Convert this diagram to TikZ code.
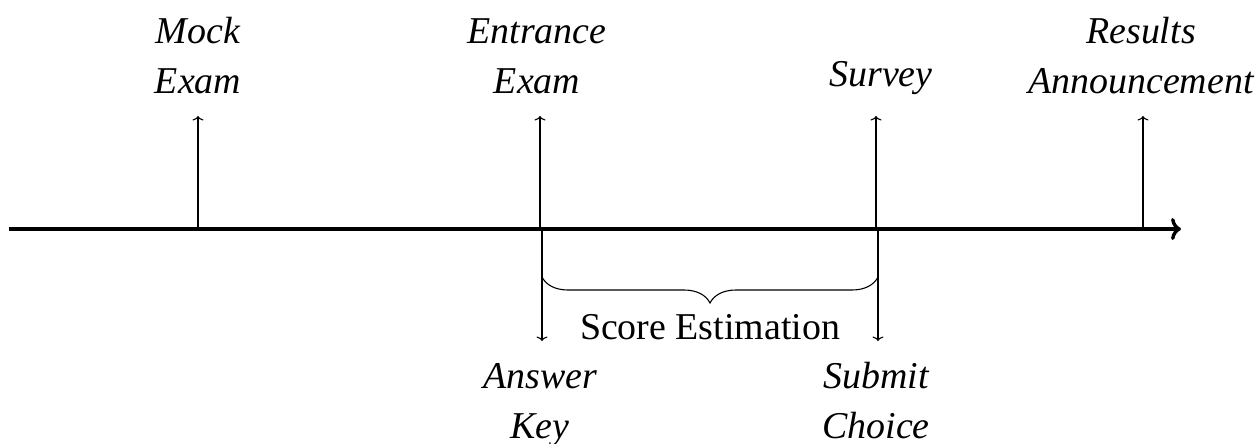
\documentclass[tikz,border=0pt]{standalone}
\usepackage{fontspec}
\setmainfont{Liberation Serif}
\usetikzlibrary{decorations.pathreplacing,arrows.meta}
\begin{document}
\begin{tikzpicture}[x=1pt,y=-1pt,
  lbl/.style={font=\fontsize{37.9}{50}\selectfont\itshape, align=center, anchor=base, inner sep=0pt},
  plain/.style={font=\fontsize{37.9}{50}\selectfont, anchor=base, inner sep=0pt},
  tick/.style={line width=1.1pt, -{To[length=4.5pt,width=11pt]}},
  axis/.style={line width=3.4pt, -{To[length=10pt,width=22pt]}}]
\useasboundingbox (0,0) rectangle (1260,444);
% axis
\coordinate (a0) at (9,229);
\coordinate (a1) at (1181,229);
\draw[axis] (a0) -- (a1);
% axis points
\coordinate (pM) at (198,229);
\coordinate (pE) at (540,229);
\coordinate (pS) at (876,229);
\coordinate (pR) at (1143,229);
\coordinate (qA) at (542,229);
\coordinate (qC) at (878,229);
% tips
\coordinate (tM) at (198,116);
\coordinate (tE) at (540,116);
\coordinate (tS) at (876,116);
\coordinate (tR) at (1143,116);
\coordinate (tA) at (542,341);
\coordinate (tC) at (878,341);
\draw[tick] (pM) -- (tM);
\draw[tick] (pE) -- (tE);
\draw[tick] (pS) -- (tS);
\draw[tick] (pR) -- (tR);
\draw[tick] (qA) -- (tA);
\draw[tick] (qC) -- (tC);
% labels
\node[lbl] (mock) at (198,93) {Mock\\Exam};
\node[lbl] (entr) at (537,93) {Entrance\\Exam};
\node[lbl] (surv) at (881,86) {Survey};
\node[lbl] (res) at (1141,93) {Results\\Announcement};
\node[lbl] (ans) at (540,438) {Answer\\Key};
\node[lbl] (sub) at (876,438) {Submit\\Choice};
% brace
\coordinate (b0) at (542,277);
\coordinate (b1) at (878,277);
\draw[line width=1.1pt, decorate, decoration={brace, mirror, amplitude=26pt}] (b0) -- (b1);
\node[plain] (score) at (710,339) {Score Estimation};
\end{tikzpicture}
\end{document}
